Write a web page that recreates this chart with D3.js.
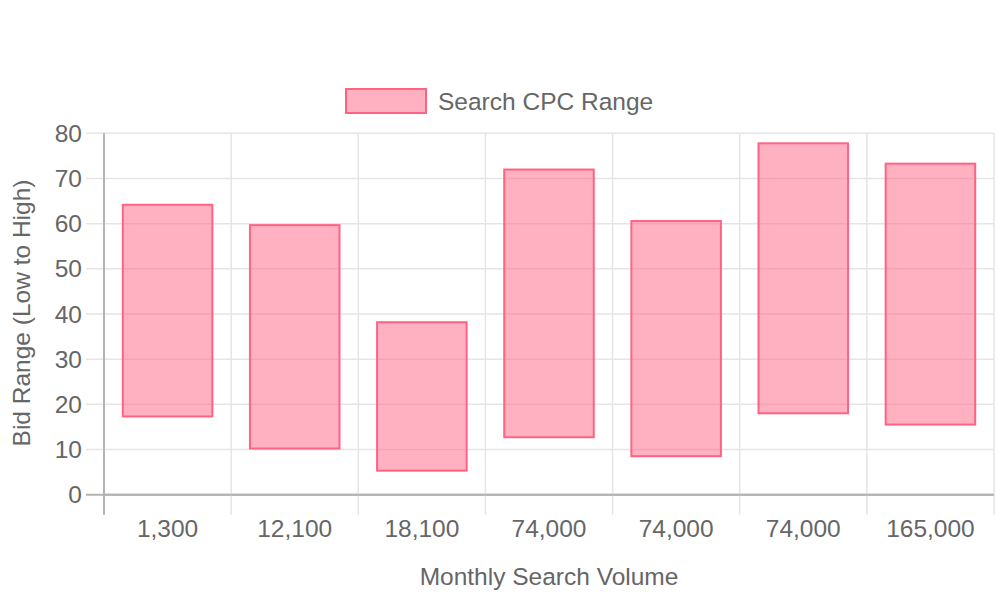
<!DOCTYPE html>
<html><head><meta charset="utf-8">
<script src="https://cdn.jsdelivr.net/npm/d3@7"></script>
<style>body{margin:0;background:#fff}svg{display:block}text{font-family:"Liberation Sans",Arial,sans-serif;fill:#666}</style>
</head><body><svg id="c" width="1000" height="600"></svg>
<script>
const categories = ["1,300","12,100","18,100","74,000","74,000","74,000","165,000"];
const lowBids  = [17.1, 10.0, 5.1, 12.5, 8.3, 17.8, 15.3];
const highBids = [64.4, 59.9, 38.4, 72.2, 60.8, 78.0, 73.5];
const yTicks = [0,10,20,30,40,50,60,70,80];
const seriesName = "Search CPC Range";

const svg = d3.select("#c");
const L = 104, R = 994, T = 133.3, B = 494.7;
const FS = 24.5;
const x = d3.scaleBand().domain(d3.range(categories.length)).range([L, R]);
const y = d3.scaleLinear().domain([0, 80]).range([B, T]);
const grid = "#e5e5e5", axisC = "#b3b3b3";

// horizontal grid
svg.append("g").selectAll("line").data(yTicks).join("line")
  .attr("x1", L - 18).attr("x2", R).attr("y1", d => y(d)).attr("y2", d => y(d))
  .attr("stroke", d => d === 0 ? axisC : grid).attr("stroke-width", d => d === 0 ? 2 : 1.5);
// vertical grid (category boundaries)
const bounds = d3.range(categories.length + 1).map(i => L + i * x.bandwidth());
svg.append("g").selectAll("line").data(bounds).join("line")
  .attr("x1", d => d).attr("x2", d => d).attr("y1", T).attr("y2", B + 20)
  .attr("stroke", (d, i) => i === 0 ? axisC : grid).attr("stroke-width", (d, i) => i === 0 ? 2 : 1.5);
svg.append("line").attr("x1", L).attr("x2", R).attr("y1", B).attr("y2", B).attr("stroke", axisC).attr("stroke-width", 2);

// y tick labels
svg.append("g").selectAll("text").data(yTicks).join("text")
  .attr("x", 82).attr("y", d => y(d)).attr("dy", "0.35em").attr("text-anchor", "end")
  .attr("font-size", FS).text(d => d);
// x tick labels
svg.append("g").selectAll("text").data(categories).join("text")
  .attr("x", (d, i) => x(i) + x.bandwidth() / 2).attr("y", 537).attr("text-anchor", "middle")
  .attr("font-size", FS).text(d => d);

// bars
const bw = x.bandwidth() * 0.8 * 0.9;
svg.append("g").selectAll("rect").data(categories).join("rect")
  .attr("x", (d, i) => x(i) + (x.bandwidth() - bw) / 2 + 1)
  .attr("width", bw - 2)
  .attr("y", (d, i) => y(highBids[i]) + 1)
  .attr("height", (d, i) => y(lowBids[i]) - y(highBids[i]) - 2)
  .attr("fill", "rgba(255,99,132,0.5)").attr("stroke", "rgb(255,99,132)").attr("stroke-width", 2);

// axis titles
svg.append("text").attr("transform", "translate(30," + ((T + B) / 2 - 1) + ") rotate(-90)")
  .attr("text-anchor", "middle").attr("font-size", FS).text("Bid Range (Low to High)");
svg.append("text").attr("x", (L + R) / 2).attr("y", 585).attr("text-anchor", "middle")
  .attr("font-size", FS).text("Monthly Search Volume");

// legend
svg.append("rect").attr("x", 346).attr("y", 89).attr("width", 80).attr("height", 24)
  .attr("fill", "rgba(255,99,132,0.5)").attr("stroke", "rgb(255,99,132)").attr("stroke-width", 2);
svg.append("text").attr("x", 438).attr("y", 101).attr("dy", "0.35em").attr("font-size", FS).text(seriesName);
</script></body></html>
